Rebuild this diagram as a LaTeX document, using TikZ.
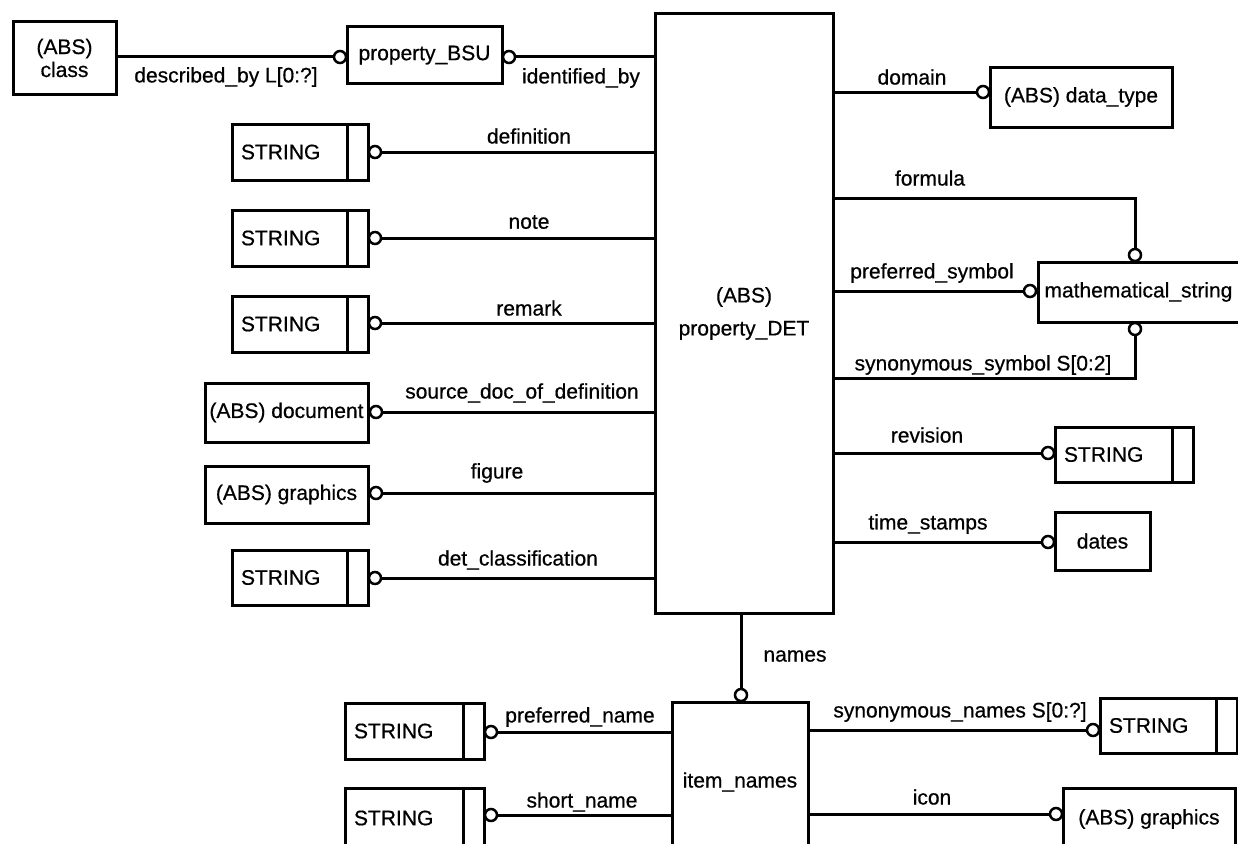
\documentclass[tikz,border=0pt]{standalone}
\usepackage{fontspec}
\setmainfont{Liberation Sans}[FakeBold=0.6]
\begin{document}
\begin{tikzpicture}[x=1pt,y=-1pt,
  every node/.style={font=\fontsize{21}{23}\selectfont},
  box/.style={draw, line width=3pt, inner sep=0pt, align=center},
  strbox/.style={draw, line width=3pt, inner xsep=9pt, inner ysep=0pt, text width=#1, align=left,
    path picture={\draw[line width=3pt] ([xshift=-21pt]path picture bounding box.north east) -- ([xshift=-21pt]path picture bounding box.south east);}},
  circ/.style={circle, draw, line width=2.5pt, fill=white, minimum size=12pt, inner sep=0pt},
  conn/.style={line width=3pt},
  lbl/.style={inner sep=0pt}]
\useasboundingbox (0,0) rectangle (1238,843);
% boxes
\node[box, minimum width=103pt, minimum height=72pt] (cls) at (64.5,58) {(ABS)\\class};
\node[box, minimum width=155pt, minimum height=56pt] (bsu) at (424.5,55) {property\_BSU};
\node[box, minimum width=178pt, minimum height=599pt] (det) at (744,313.5) {(ABS)\\[10pt]property\_DET};
\node[strbox=118pt, minimum height=56pt] (s1) at (300,152) {STRING};
\node[strbox=118pt, minimum height=56pt] (s2) at (300,238) {STRING};
\node[strbox=118pt, minimum height=56pt] (s3) at (300,324) {STRING};
\node[box, minimum width=163pt, minimum height=59pt] (doc) at (286.5,412.5) {(ABS) document};
\node[box, minimum width=163pt, minimum height=57pt] (gr1) at (286.5,494.5) {(ABS) graphics};
\node[strbox=118pt, minimum height=55pt] (s4) at (300,577.5) {STRING};
\node[box, minimum width=182pt, minimum height=60pt] (dt) at (1081,97) {(ABS) data\_type};
\node[box, minimum height=60pt, inner xsep=6pt, text width=203pt, align=left, anchor=west] (math) at (1037,292) {mathematical\_string};
\node[strbox=120pt, minimum height=55pt] (rev) at (1124,454.5) {STRING};
\node[box, minimum width=95pt, minimum height=58pt] (dates) at (1102.5,541) {dates};
\node[box, minimum width=136pt, minimum height=160pt] (item) at (740,782) {item\_names};
\node[strbox=121pt, minimum height=56pt] (pn) at (414.5,731) {STRING};
\node[strbox=121pt, minimum height=60pt] (sn) at (414.5,818) {STRING};
\node[strbox=119pt, minimum height=55pt] (syn) at (1168.5,725.5) {STRING};
\node[box, minimum width=172pt, minimum height=62pt] (gr2) at (1149,819) {(ABS) graphics};
% circles
\node[circ] (c1) at (340,57) {};
\node[circ] (c2) at (509,57) {};
\node[circ] (c3) at (375,152) {};
\node[circ] (c4) at (375,238) {};
\node[circ] (c5) at (375,323) {};
\node[circ] (c6) at (376,412) {};
\node[circ] (c7) at (376,493) {};
\node[circ] (c8) at (375,578) {};
\node[circ] (c9) at (983,92) {};
\node[circ] (c10) at (1135,255) {};
\node[circ] (c11) at (1030,291) {};
\node[circ] (c12) at (1135,329) {};
\node[circ] (c13) at (1048,453) {};
\node[circ] (c14) at (1048,542) {};
\node[circ] (c15) at (741,695) {};
\node[circ] (c16) at (491,732) {};
\node[circ] (c17) at (491,815) {};
\node[circ] (c18) at (1093,730) {};
\node[circ] (c19) at (1056,814) {};
\coordinate (fk) at (1135,198);
\coordinate (sk) at (1135,378);
% connectors
\draw[conn] (cls.east |- c1) -- (c1.west);
\draw[conn] (c2.east) -- (c2 -| det.west);
\foreach \c in {c3,c4,c5,c6,c7,c8} {\draw[conn] (\c.east) -- (\c -| det.west);}
\foreach \c in {c9,c11,c13,c14} {\draw[conn] (det.east |- \c) -- (\c.west);}
\draw[conn] (det.east |- fk) -- (fk) -- (c10.north);
\draw[conn] (c12.south) -- (sk) -- (sk -| det.east);
\draw[conn] (det.south -| c15) -- (c15.north);
\draw[conn] (c16.east) -- (c16 -| item.west);
\draw[conn] (c17.east) -- (c17 -| item.west);
\draw[conn] (item.east |- c18) -- (c18.west);
\draw[conn] (item.east |- c19) -- (c19.west);
% labels
\node[lbl] (l1) at (226,77) {described\_by L[0:?]};
\node[lbl] (l2) at (581,78) {identified\_by};
\node[lbl] (l3) at (529,136) {definition};
\node[lbl] (l4) at (529,222) {note};
\node[lbl] (l5) at (529,308) {remark};
\node[lbl] (l6) at (522,393) {source\_doc\_of\_definition};
\node[lbl] (l7) at (497,473) {figure};
\node[lbl] (l8) at (518,560) {det\_classification};
\node[lbl] (l9) at (912,77) {domain};
\node[lbl] (l10) at (930,178) {formula};
\node[lbl] (l11) at (932,273) {preferred\_symbol};
\node[lbl] (l12) at (983,365) {synonymous\_symbol S[0:2]};
\node[lbl] (l13) at (927,435) {revision};
\node[lbl] (l14) at (928,524) {time\_stamps};
\node[lbl] (l15) at (795,656) {names};
\node[lbl] (l16) at (580,717) {preferred\_name};
\node[lbl] (l17) at (582,802) {short\_name};
\node[lbl] (l18) at (960,712) {synonymous\_names S[0:?]};
\node[lbl] (l19) at (932,797) {icon};
\end{tikzpicture}
\end{document}
